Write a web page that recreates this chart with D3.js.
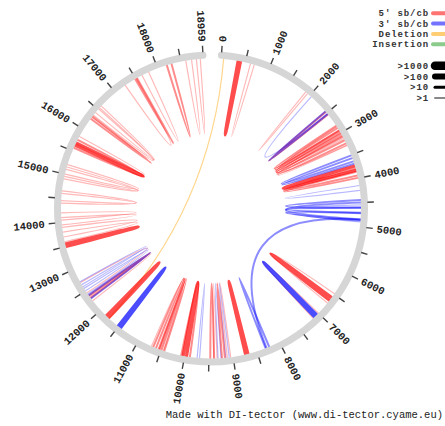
<!DOCTYPE html>
<html><head><meta charset="utf-8">
<script src="https://cdn.jsdelivr.net/npm/d3@7"></script>
<style>body{margin:0;background:#fff} svg{display:block}</style>
</head><body>
<svg id="c" width="445" height="426"></svg>
<script>
// ---- data ----
const genomeLength = 18959;
const tickStep = 500;
const labelStep = 1000;
// [start, end, count]
const fivePrime = [
  [350,400,300],[610,690,3],[1890,1940,3],[2470,2540,40],
  [2830,2950,15],[2880,3020,12],[2940,3090,15],[2990,3170,12],[3060,3240,12],[3130,3290,8],[2850,3280,3],
  [3740,3830,150],[3790,3940,20],[3860,3990,12],
  [6580,6650,300],[6480,6720,3],[7000,7150,3],
  [8690,8740,200],[9050,9120,3],[9170,9230,20],[9330,9400,4],[9390,9470,40],
  [9890,10070,20],[9960,10030,400],
  [10430,10550,15],[10490,10610,12],[10530,10670,12],[10450,10710,5],
  [11770,11830,150],[12250,12350,3],[12320,12380,30],[12450,12700,3],
  [13500,13550,300],[13600,13800,3],[13700,13900,3],[13950,14100,3],[14050,14200,3],
  [14400,14650,3],[14450,14600,3],[14900,15150,3],[14950,15100,4],[15000,15200,3],
  [15570,15750,15],[15630,15680,400],[15660,15830,8],
  [16260,16320,60],[16300,16550,4],[16350,16600,4],[16420,16520,4],
  [17250,17520,4],[17490,17530,30],[17650,17800,4],
  [18200,18300,30],[18600,18720,4],[18820,18900,4]
];
const threePrime = [
  [2040,2520,5],[2460,2530,40],[3510,3640,30],[3570,3690,15],[4150,4250,4],
  [4450,4600,15],[4500,4850,10],[4610,4710,30],[4720,4870,25],[4550,4900,6],
  [4850,8290,15],[7050,7110,300],[8230,8310,15],[9250,9310,6],[9080,9150,5],[9690,9740,5],
  [11450,11510,600],[12310,12390,40],[12420,12560,6],[12500,12650,6],[12600,12720,4]
];
const deletions = [[50,11760,3]];
const insertions = [];
const typeLabels = ["5' sb/cb","3' sb/cb","Deletion","Insertion"];
const typeColors = ["#ff0000","#0000ff","#ffa500","#2ca02c"];
const countLabels = [">1000",">100",">10",">1"];
const countThresholds = [10,100,1000];

// ---- layout ----
const cx = 211, cy = 208.5;
const rLink = 150, rRingIn = 150, rRingOut = 157, rTickOut = 163, rLabel = 167;
const svg = d3.select("#c");
const angle = d3.scaleLinear().domain([0, genomeLength]).range([3.9, 357]);
const rad = d => d * Math.PI / 180;
const pt = (p, r) => [cx + r * Math.sin(rad(angle(p))), cy - r * Math.cos(rad(angle(p)))];
const widthScale = d3.scaleThreshold().domain(countThresholds).range([1.2, 2, 3.2, 4.6]);
const opacityScale = d3.scaleThreshold().domain(countThresholds).range([0.28, 0.45, 0.7, 0.85]);

const links = [];
[fivePrime, threePrime, deletions, insertions].forEach((arr, i) =>
  arr.forEach(d => links.push({s: d[0], e: d[1], c: d[2], t: i})));
links.sort((a, b) => a.c - b.c);

const linkPath = d => {
  const p = d3.path();
  const a = pt(d.s, rLink), b = pt(d.e, rLink);
  p.moveTo(a[0], a[1]);
  p.quadraticCurveTo(cx, cy, b[0], b[1]);
  return p.toString();
};

svg.append("g").selectAll("path").data(links).join("path")
  .attr("d", linkPath)
  .attr("fill", "none")
  .attr("stroke", d => typeColors[d.t])
  .attr("stroke-width", d => widthScale(d.c))
  .attr("stroke-opacity", d => d.t === 2 ? 0.45 : opacityScale(d.c))
  .attr("stroke-linecap", "round");

// ring
const ring = d3.path();
ring.arc(cx, cy, (rRingIn + rRingOut) / 2, rad(angle(0)) - Math.PI / 2, rad(angle(genomeLength)) - Math.PI / 2);
svg.append("path").attr("d", ring.toString()).attr("fill", "none")
  .attr("stroke", "#d6d6d6").attr("stroke-width", rRingOut - rRingIn).attr("stroke-linecap", "round");

// ticks
const ticks = d3.range(0, genomeLength, tickStep).concat([genomeLength]);
const tg = svg.append("g").selectAll("g").data(ticks).join("g")
  .attr("transform", d => `rotate(${angle(d) - 90},${cx},${cy})`);
tg.append("line").attr("x1", cx + rRingOut - 0.5).attr("x2", cx + rTickOut)
  .attr("y1", cy).attr("y2", cy).attr("stroke", "#444").attr("stroke-width", 1.4);
tg.filter(d => d % labelStep === 0 || d === genomeLength).append("text")
  .attr("transform", d => angle(d) > 180 ? `translate(${cx + rLabel},${cy}) rotate(180)` : `translate(${cx + rLabel},${cy})`)
  .attr("text-anchor", d => angle(d) > 180 ? "end" : "start")
  .attr("dy", "0.35em")
  .attr("font-family", "Liberation Mono, DejaVu Sans Mono, monospace")
  .attr("font-size", 10.5).attr("font-weight", "bold").attr("fill", "#222")
  .text(d => d);

// legend
const lg = svg.append("g").attr("font-family", "Liberation Mono, DejaVu Sans Mono, monospace")
  .attr("font-size", 9).attr("font-weight", "bold").attr("letter-spacing", "0.9px").attr("fill", "#333");
typeLabels.forEach((t, i) => {
  const y = 13.3 + i * 10.3;
  lg.append("text").attr("x", 429).attr("y", y).attr("dy", "0.35em").attr("text-anchor", "end").text(t);
  lg.append("line").attr("x1", 433).attr("x2", 455).attr("y1", y).attr("y2", y)
    .attr("stroke", typeColors[i]).attr("stroke-opacity", 0.55).attr("stroke-width", 4).attr("stroke-linecap", "round");
});
countLabels.forEach((t, i) => {
  const y = 65.7 + i * 10.8;
  lg.append("text").attr("x", 429).attr("y", y).attr("dy", "0.35em").attr("text-anchor", "end").text(t);
  lg.append("line").attr("x1", 435).attr("x2", 455).attr("y1", y).attr("y2", y)
    .attr("stroke", i === 3 ? "#888" : "#000").attr("stroke-width", [8.5, 6, 3, 2][i]).attr("stroke-linecap", "round");
});

svg.append("text").attr("x", 443).attr("y", 418).attr("text-anchor", "end")
  .attr("font-family", "Liberation Mono, DejaVu Sans Mono, monospace")
  .attr("font-size", 10.5).attr("fill", "#222")
  .text("Made with DI-tector (www.di-tector.cyame.eu)");
</script>
</body></html>
